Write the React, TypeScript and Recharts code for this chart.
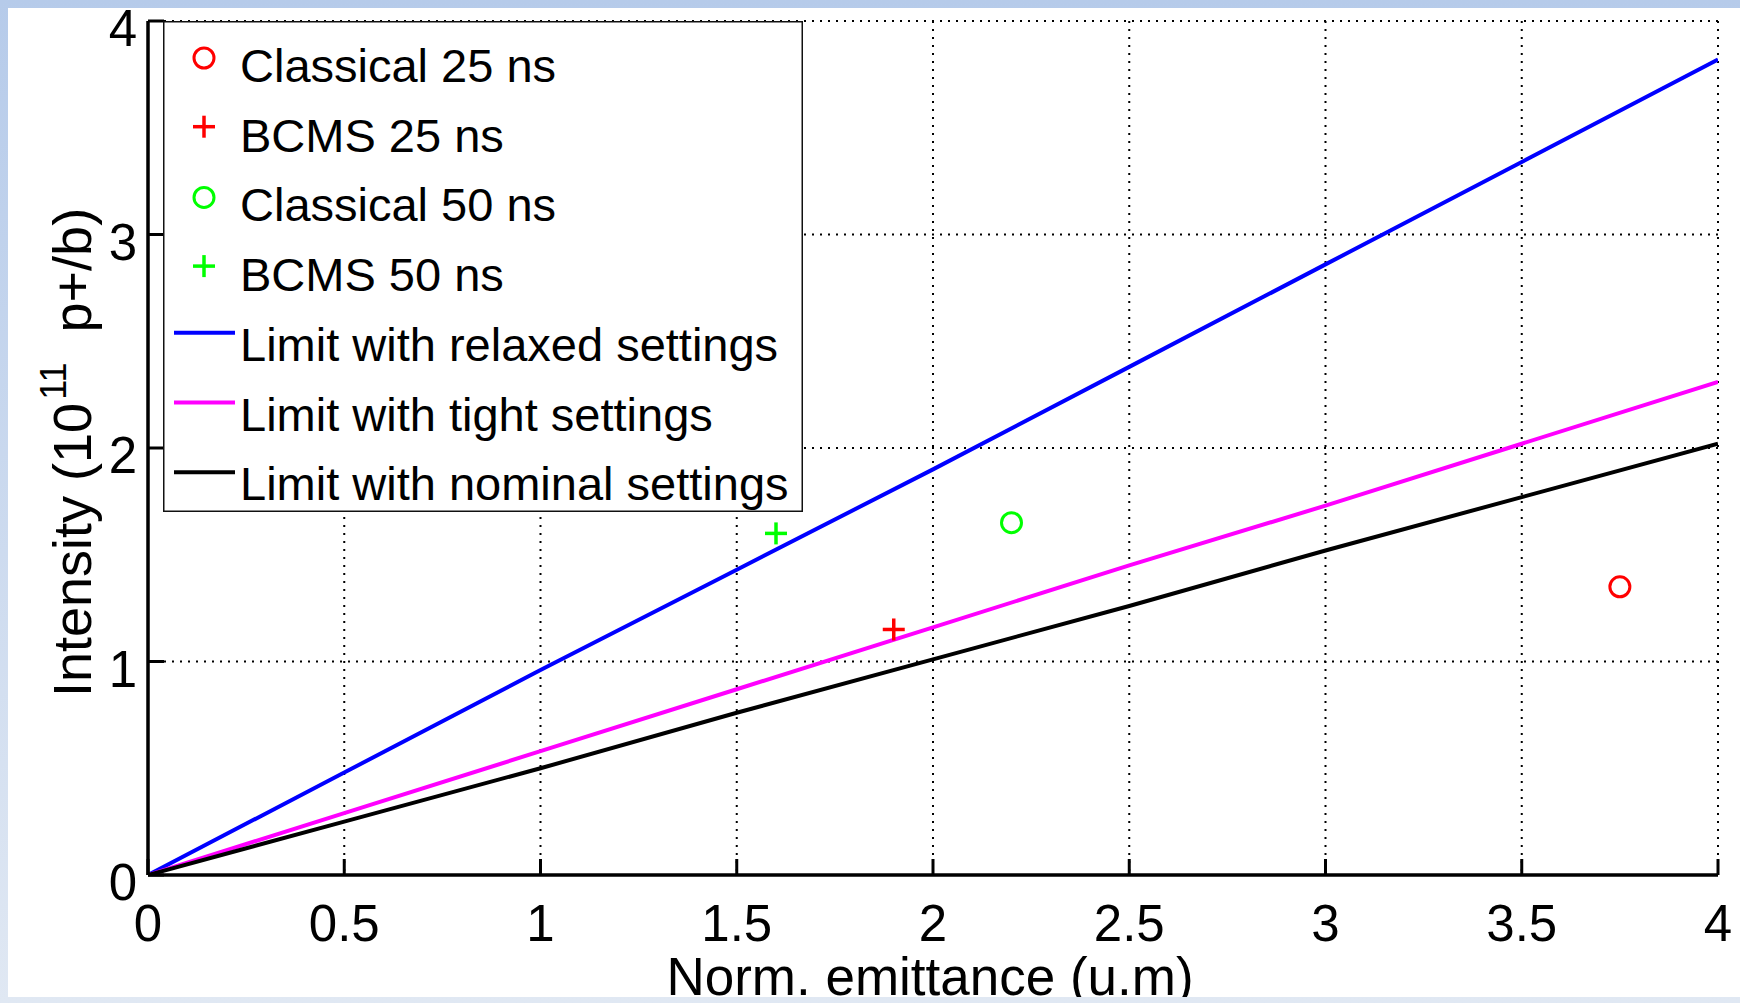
import React from 'react';
import { ComposedChart, Line, Scatter, XAxis, YAxis, CartesianGrid, Legend } from 'recharts';

// ---- data ----
const emittance = [0, 0.5, 1, 1.5, 2, 2.5, 3, 3.5, 4];
const relaxedLimit = [0, 0.48, 0.96, 1.43, 1.9, 2.38, 2.86, 3.34, 3.82];
const tightLimit = [0, 0.29, 0.58, 0.87, 1.16, 1.45, 1.73, 2.02, 2.31];
const nominalLimit = [0, 0.25, 0.5, 0.76, 1.01, 1.26, 1.52, 1.77, 2.02];

const classical25 = [{ x: 3.75, y: 1.35 }];
const bcms25 = [{ x: 1.9, y: 1.15 }];
const classical50 = [{ x: 2.2, y: 1.65 }];
const bcms50 = [{ x: 1.6, y: 1.6 }];

const xTicks = [0, 0.5, 1, 1.5, 2, 2.5, 3, 3.5, 4];
const yTicks = [0, 1, 2, 3, 4];

const scatterNames = ['Classical 25 ns', 'BCMS 25 ns', 'Classical 50 ns', 'BCMS 50 ns'];
const lineNames = ['Limit with relaxed settings', 'Limit with tight settings', 'Limit with nominal settings'];

const xLabel = 'Norm. emittance (u.m)';

const lineData = emittance.map((x, i) => ({
  x,
  relaxed: relaxedLimit[i],
  tight: tightLimit[i],
  nominal: nominalLimit[i],
}));

// ---- styles ----
const FONT = '"Liberation Sans", Arial, Helvetica, sans-serif';
const RED = '#ff0000';
const GREEN = '#00ff00';
const BLUE = '#0000ff';
const MAGENTA = '#ff00ff';
const BLACK = '#000000';
const TICK_LEN = 16;
const LINE_W = 4;

const circleShape = (color: string) => (props: any) => (
  <circle cx={props.cx} cy={props.cy} r={10} fill="none" stroke={color} strokeWidth={3} />
);
const plusShape = (color: string) => (props: any) => (
  <g stroke={color} strokeWidth={3.5}>
    <line x1={props.cx - 11} y1={props.cy} x2={props.cx + 11} y2={props.cy} />
    <line x1={props.cx} y1={props.cy - 11} x2={props.cx} y2={props.cy + 11} />
  </g>
);

const BottomTick = (props: any) => {
  const { x, y, payload } = props;
  return (
    <g>
      <line x1={x} y1={y} x2={x} y2={y - TICK_LEN} stroke={BLACK} strokeWidth={3} />
      <text x={x} y={y + 66} textAnchor="middle" fontFamily={FONT} fontSize={51} fill={BLACK}>
        {String(payload.value)}
      </text>
    </g>
  );
};
const LeftTick = (props: any) => {
  const { x, y, payload } = props;
  return (
    <g>
      <line x1={x} y1={y} x2={x + TICK_LEN} y2={y} stroke={BLACK} strokeWidth={3} />
      <text x={x - 11} y={y + 25} textAnchor="end" fontFamily={FONT} fontSize={51} fill={BLACK}>
        {String(payload.value)}
      </text>
    </g>
  );
};
const TopTick = (props: any) => {
  const { x, y } = props;
  return <line x1={x} y1={y} x2={x} y2={y + TICK_LEN} stroke={BLACK} strokeWidth={3} />;
};
const RightTick = (props: any) => {
  const { x, y } = props;
  return <line x1={x} y1={y} x2={x - TICK_LEN} y2={y} stroke={BLACK} strokeWidth={3} />;
};

const YLabel = (props: any) => {
  const vb = props.viewBox || { x: 0, y: 21, width: 148, height: 854 };
  const bx = vb.x + 91;
  const by = vb.y + 676;
  return (
    <text
      x={bx}
      y={by}
      transform={`rotate(-90, ${bx}, ${by})`}
      fontFamily={FONT}
      fontSize={54}
      fill={BLACK}
    >
      Intensity (10
      <tspan dy={-25} dx={3} fontSize={36}>11</tspan>
      <tspan dy={25}>{'\u00a0 p+/b)'}</tspan>
    </text>
  );
};

const XLabel = (props: any) => {
  const vb = props.viewBox || { x: 148, y: 875, width: 1570, height: 128 };
  return (
    <text
      x={vb.x + vb.width / 2 - 3}
      y={vb.y + 120}
      textAnchor="middle"
      fontFamily={FONT}
      fontSize={53}
      fill={BLACK}
    >
      {xLabel}
    </text>
  );
};

const legendItems = [
  { name: scatterNames[0], color: RED, kind: 'circle' },
  { name: scatterNames[1], color: RED, kind: 'plus' },
  { name: scatterNames[2], color: GREEN, kind: 'circle' },
  { name: scatterNames[3], color: GREEN, kind: 'plus' },
  { name: lineNames[0], color: BLUE, kind: 'line' },
  { name: lineNames[1], color: MAGENTA, kind: 'line' },
  { name: lineNames[2], color: BLACK, kind: 'line' },
];

const LEG_W = 640;
const LEG_H = 491;

const LegendBox = () => (
  <svg width={LEG_W} height={LEG_H} style={{ display: 'block' }}>
    <rect x={0.75} y={0.75} width={LEG_W - 1.5} height={LEG_H - 1.5} fill="#ffffff" stroke="#111" strokeWidth={1.5} />
    {legendItems.map((it, i) => {
      const base = 61 + i * 69.7;
      let mark: React.ReactNode = null;
      if (it.kind === 'circle') {
        mark = <circle cx={41} cy={base - 24} r={10} fill="none" stroke={it.color} strokeWidth={3} />;
      } else if (it.kind === 'plus') {
        mark = (
          <g stroke={it.color} strokeWidth={3.5}>
            <line x1={30} y1={base - 25} x2={52} y2={base - 25} />
            <line x1={41} y1={base - 36} x2={41} y2={base - 14} />
          </g>
        );
      } else {
        mark = <line x1={11} y1={base - 28} x2={72} y2={base - 28} stroke={it.color} strokeWidth={LINE_W} />;
      }
      return (
        <g key={it.name}>
          {mark}
          <text x={77} y={base} fontFamily={FONT} fontSize={47} fill={BLACK}>
            {it.name}
          </text>
        </g>
      );
    })}
  </svg>
);

export default function App() {
  return (
    <div
      style={{
        position: 'absolute',
        left: 0,
        top: 0,
        width: 1740,
        height: 1003,
        background: 'linear-gradient(to bottom, #b6cbea, #e0e8f3)',
        overflow: 'hidden',
      }}
    >
      <div
        style={{
          position: 'absolute',
          left: 8,
          top: 8,
          width: 1732,
          height: 989,
          background: '#ffffff',
          overflow: 'hidden',
        }}
      >
        <div style={{ position: 'absolute', left: -8, top: -8, width: 1740, height: 1003 }}>
          <ComposedChart
            width={1740}
            height={1003}
            data={lineData}
            margin={{ top: 21, right: 22, bottom: 0, left: 0 }}
          >
            <CartesianGrid
              xAxisId="bottom"
              yAxisId="left"
              stroke={BLACK}
              strokeWidth={2}
              strokeDasharray="2 6"
            />
            <XAxis
              xAxisId="bottom"
              dataKey="x"
              type="number"
              domain={[0, 4]}
              ticks={xTicks}
              interval={0}
              height={128}
              tickSize={0}
              tickMargin={0}
              tickLine={false}
              axisLine={{ stroke: BLACK, strokeWidth: 3.5 }}
              tick={<BottomTick />}
              label={<XLabel />}
              allowDataOverflow
            />
            <XAxis
              xAxisId="top"
              orientation="top"
              type="number"
              domain={[0, 4]}
              ticks={xTicks}
              interval={0}
              height={0}
              tickSize={0}
              tickMargin={0}
              tickLine={false}
              axisLine={{ stroke: BLACK, strokeWidth: 3.5 }}
              tick={<TopTick />}
              allowDataOverflow
            />
            <YAxis
              yAxisId="left"
              type="number"
              domain={[0, 4]}
              ticks={yTicks}
              interval={0}
              width={148}
              tickSize={0}
              tickMargin={0}
              tickLine={false}
              axisLine={{ stroke: BLACK, strokeWidth: 3.5 }}
              tick={<LeftTick />}
              label={<YLabel />}
              allowDataOverflow
            />
            <YAxis
              yAxisId="right"
              orientation="right"
              type="number"
              domain={[0, 4]}
              ticks={yTicks}
              interval={0}
              width={0}
              tickSize={0}
              tickMargin={0}
              tickLine={false}
              axisLine={{ stroke: BLACK, strokeWidth: 3.5 }}
              tick={<RightTick />}
              allowDataOverflow
            />
            <Line xAxisId="bottom" yAxisId="left" type="linear" dataKey="relaxed" name={lineNames[0]} stroke={BLUE} strokeWidth={LINE_W} dot={false} isAnimationActive={false} />
            <Line xAxisId="bottom" yAxisId="left" type="linear" dataKey="tight" name={lineNames[1]} stroke={MAGENTA} strokeWidth={LINE_W} dot={false} isAnimationActive={false} />
            <Line xAxisId="bottom" yAxisId="left" type="linear" dataKey="nominal" name={lineNames[2]} stroke={BLACK} strokeWidth={LINE_W} dot={false} isAnimationActive={false} />
            <Scatter xAxisId="bottom" yAxisId="left" data={classical25} dataKey="y" name={scatterNames[0]} shape={circleShape(RED)} isAnimationActive={false} />
            <Scatter xAxisId="bottom" yAxisId="left" data={bcms25} dataKey="y" name={scatterNames[1]} shape={plusShape(RED)} isAnimationActive={false} />
            <Scatter xAxisId="bottom" yAxisId="left" data={classical50} dataKey="y" name={scatterNames[2]} shape={circleShape(GREEN)} isAnimationActive={false} />
            <Scatter xAxisId="bottom" yAxisId="left" data={bcms50} dataKey="y" name={scatterNames[3]} shape={plusShape(GREEN)} isAnimationActive={false} />
            <Legend
              layout="vertical"
              align="center"
              verticalAlign="middle"
              content={() => <LegendBox />}
              wrapperStyle={{ left: 163, top: 21, width: LEG_W, height: LEG_H, margin: 0, padding: 0 }}
            />
          </ComposedChart>
        </div>
      </div>
    </div>
  );
}
